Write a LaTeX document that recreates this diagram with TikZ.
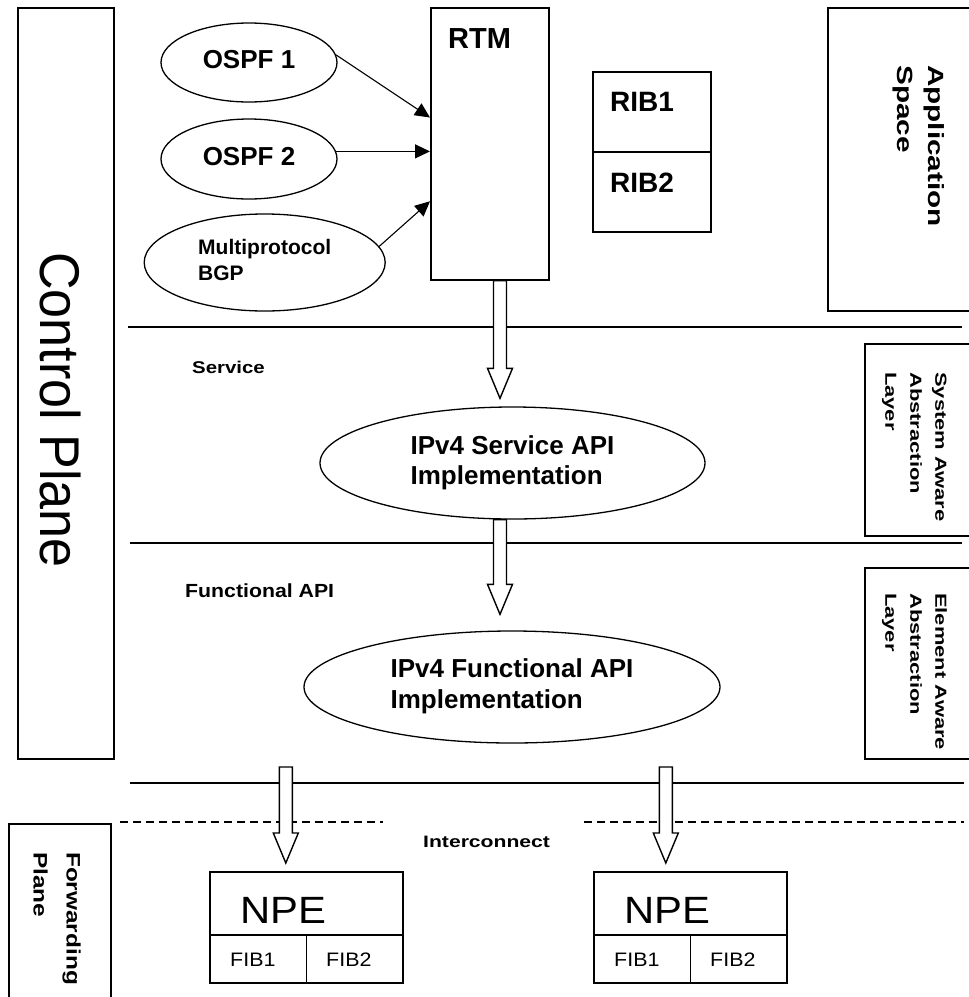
\documentclass[tikz,border=0pt]{standalone}
\usepackage{fontspec}
\setmainfont{Liberation Sans}
\usetikzlibrary{shapes.geometric,arrows.meta,calc}

\newcommand\fsz[2]{\fontsize{#1}{#2}\selectfont}
% hollow block arrow: shaft starts at #1, tip ends at #2 (straight down)
\newcommand\blockarrow[2]{%
  \draw[hollow] let \p1=(#1), \p2=(#2) in
    (\x2-6.5pt,\y1) -- (\x2-6.5pt,\y2+30pt) -- (\x2-12.5pt,\y2+30pt)
    -- (\x2,\y2) -- (\x2+12.5pt,\y2+30pt) -- (\x2+6.5pt,\y2+30pt)
    -- (\x2+6.5pt,\y1) -- cycle;}

\begin{document}
\begin{tikzpicture}[x=1pt,y=-1pt,
  frame/.style={draw, rectangle, line width=1.6pt, inner sep=0pt, anchor=north west},
  oval/.style={draw, ellipse, line width=1.3pt, inner sep=0pt},
  lbl/.style={anchor=base west, inner sep=0pt},
  vlbl/.style={rotate=-90, anchor=north west, inner sep=0pt},
  feed/.style={line width=1.1pt, -{Triangle[length=15pt,width=14pt]}},
  sepline/.style={line width=1.8pt},
  cell/.style={line width=1.6pt},
  hollow/.style={draw, fill=white, line width=1.4pt, line join=miter},
]
\useasboundingbox (0,0) rectangle (969,997);

% ---- plane / layer frames
\node[frame, minimum width=96, minimum height=751] (cp) at (17,7) {};
\node[rotate=-90, font=\fsz{56}{62}] (cptext) at (61,410) {\scalebox{0.93}[1]{Control Plane}};

\node[frame, minimum width=160, minimum height=303] (app) at (827,7) {};
\node[vlbl, font=\bfseries\fsz{22}{31}] (apptext) at (950,65)
  {\scalebox{1.35}[1]{\begin{tabular}{@{}l@{}}Application\\Space\end{tabular}}};

\node[frame, minimum width=120, minimum height=192] (sys) at (864,343) {};
\node[vlbl, font=\bfseries\fsz{16}{25}] (systext) at (953,372)
  {\scalebox{1.37}[1]{\begin{tabular}{@{}l@{}}System Aware\\Abstraction\\Layer\end{tabular}}};

\node[frame, minimum width=120, minimum height=191] (elem) at (864,567) {};
\node[vlbl, font=\bfseries\fsz{16}{25}] (elemtext) at (953,593)
  {\scalebox{1.37}[1]{\begin{tabular}{@{}l@{}}Element Aware\\Abstraction\\Layer\end{tabular}}};

\node[frame, minimum width=102, minimum height=200] (fp) at (8,823) {};
\node[vlbl, font=\bfseries\fsz{19.5}{33}] (fptext) at (90,852)
  {\scalebox{1.25}[1]{\begin{tabular}{@{}l@{}}Forwarding\\Plane\end{tabular}}};

% ---- routing protocols and RTM
\node[oval, minimum width=176, minimum height=79, font=\bfseries\fsz{26}{31}] (ospf1) at (249,62.5) {\strut OSPF 1};
\node[oval, minimum width=176, minimum height=80, font=\bfseries\fsz{26}{31}] (ospf2) at (249,159) {\strut OSPF 2};
\node[oval, minimum width=241, minimum height=97, font=\bfseries\fsz{21}{26}] (bgp) at (264.7,262.5)
  {\begin{tabular}{@{}l@{}}Multiprotocol\\BGP\end{tabular}\hspace{9pt}};

\node[frame, minimum width=118, minimum height=272] (rtm) at (430,7) {};
\node[lbl, font=\bfseries\fsz{29}{34}] (rtmtext) at (448,48) {RTM};

\node[frame, minimum width=118, minimum height=80] (rib1) at (592,71) {};
\node[frame, minimum width=118, minimum height=80] (rib2) at (592,151) {};
\node[lbl, font=\bfseries\fsz{28}{33}] (rib1text) at (610,111) {RIB1};
\node[lbl, font=\bfseries\fsz{28}{33}] (rib2text) at (610,192) {RIB2};

\draw[feed] (ospf1.5) -- ($(rtm.north west)!0.404!(rtm.south west)$);
\draw[feed] (ospf2.5) -- (ospf2.5 -| rtm.west);
\draw[feed] (bgp.8) -- ($(rtm.north west)!0.71!(rtm.south west)$);

% ---- layer separators
\draw[sepline] (128,327) -- (962,327);
\draw[sepline] (130,543) -- (962,543);
\draw[sepline] (130,783) -- (964,783);
\draw[sepline, dash pattern=on 8pt off 5pt] (120,822) -- (383,822);
\draw[sepline, dash pattern=on 8pt off 5pt] (584,822) -- (964,822);

\node[lbl, font=\bfseries\fsz{17}{20}] (svclbl) at (192,373) {\scalebox{1.2}[1]{Service}};
\node[lbl, font=\bfseries\fsz{19}{22}] (fnlbl) at (185,597) {\scalebox{1.12}[1]{Functional API}};
\node[lbl, font=\bfseries\fsz{16.5}{20}] (iclbl) at (423,847) {\scalebox{1.28}[1]{Interconnect}};

% ---- API implementations
\node[oval, minimum width=385, minimum height=112, font=\bfseries\fsz{26}{30}] (svc) at (512.5,463)
  {\begin{tabular}{@{}l@{}}IPv4 Service API\\Implementation\end{tabular}\hspace{41pt}};
\node[oval, minimum width=416, minimum height=112, font=\bfseries\fsz{26}{31}] (fn) at (512,687)
  {\begin{tabular}{@{}l@{}}IPv4 Functional API\\Implementation\end{tabular}\hspace{23pt}};

% ---- forwarding elements
\foreach \n/\x in {npe1/209, npe2/593}{
  \node[frame, minimum width=193, minimum height=111] (\n) at (\x,871) {};
  \draw[cell] ($(\n.north west)+(0,64)$) -- ($(\n.north east)+(0,64)$);
  \draw[cell] ($(\n.north)+(0,64)$) -- (\n.south);
  \node[lbl, font=\fsz{38}{44}] (\n-title) at ($(\n.north west)+(31,52)$) {\scalebox{1.1}[1]{NPE}};
  \node[lbl, font=\fsz{19.5}{23}] (\n-fib1) at ($(\n.north west)+(21,95)$) {\scalebox{1.1}[1]{FIB1}};
  \node[lbl, font=\fsz{19.5}{23}] (\n-fib2) at ($(\n.north west)+(117,95)$) {\scalebox{1.1}[1]{FIB2}};
}

% ---- hollow block arrows between layers
\coordinate (d1) at (285,767);
\coordinate (d2) at (665,767);
\blockarrow{$(rtm.south)+(11,0)$}{$(svc.north)+(-12.5,-8)$}
\blockarrow{$(svc.south)+(-12.5,0)$}{$(fn.north)+(-12,-16)$}
\blockarrow{d1}{$(npe1.north)+(-20.5,-8)$}
\blockarrow{d2}{$(npe2.north)+(-24.5,-8)$}
\end{tikzpicture}
\end{document}
